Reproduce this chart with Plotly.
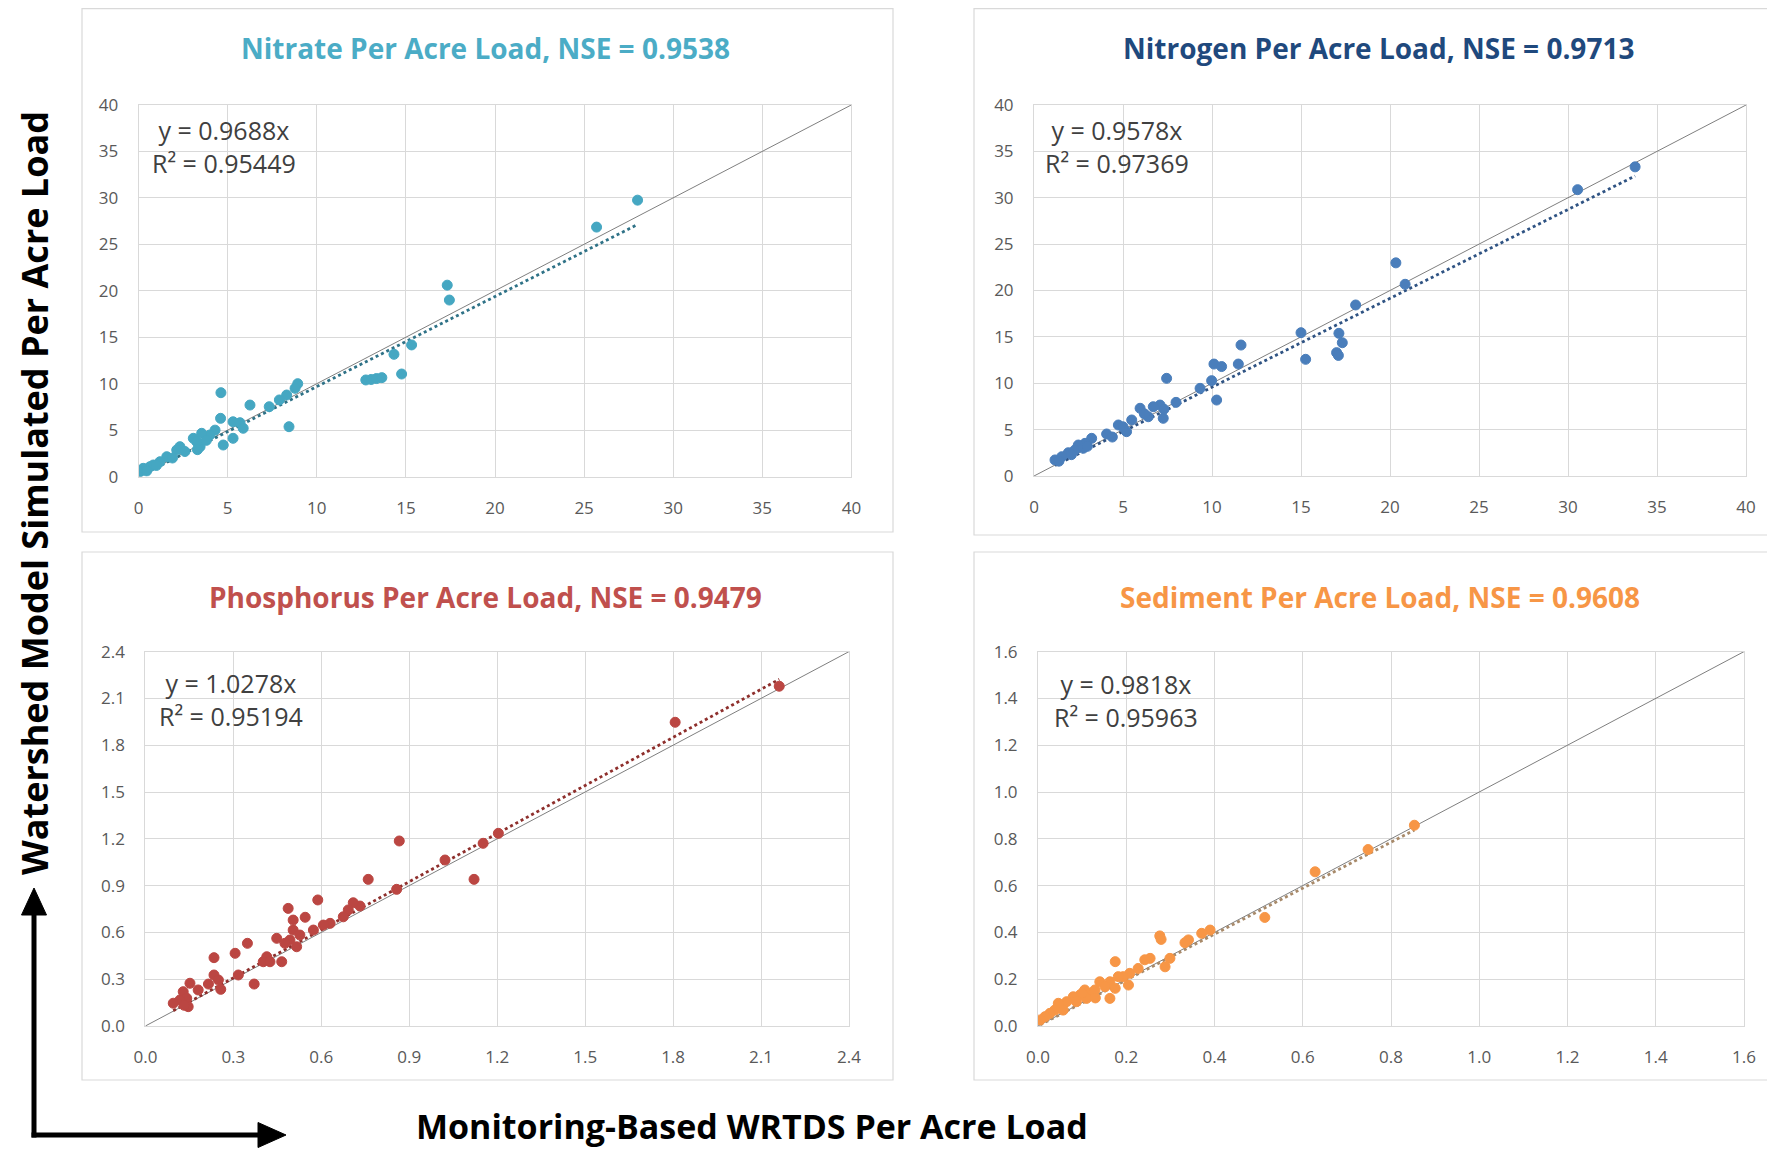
import plotly.graph_objects as go

# page body adds an 8px margin; the figure is sized/offset to compensate
OFF = 8
W, H = 1775 - OFF, 1155 - OFF

# ---------------- data ----------------
nitrate_x = [28.0, 25.7, 17.32, 17.44, 15.32, 14.33, 14.76, 12.75, 13.05, 13.35, 13.65, 8.93, 8.78, 8.31,
             7.9, 7.33, 6.25, 4.62, 8.44, 4.6, 5.3, 5.69, 5.87, 5.3, 4.75, 4.29, 4.0, 3.54, 3.07, 3.45,
             3.26, 2.32, 2.14, 1.58, 1.2, 0.83, 0.26, 0.08, 0.64, 3.8, 3.3, 2.6, 1.9, 1.0, 0.45]
nitrate_y = [29.75, 26.85, 20.6, 19.0, 14.17, 13.16, 11.04, 10.4, 10.45, 10.55, 10.65, 10.0, 9.5, 8.78,
             8.25, 7.52, 7.7, 9.03, 5.37, 6.27, 5.9, 5.8, 5.2, 4.12, 3.4, 5.0, 4.48, 4.66, 4.12, 3.22,
             3.76, 3.22, 2.86, 2.14, 1.6, 1.25, 0.89, 0.53, 1.07, 3.9, 2.9, 2.7, 2.0, 1.2, 0.6]

nitrogen_x = [33.77, 30.54, 20.33, 20.85, 18.07, 15.0, 17.13, 17.32, 17.0, 17.1, 15.26, 11.63, 11.48, 10.11,
              10.54, 9.98, 10.26, 9.33, 7.98, 7.45, 7.08, 7.26, 6.7, 5.96, 6.42, 5.49, 5.2, 4.74, 4.08,
              3.24, 2.87, 2.49, 2.3, 1.93, 1.56, 1.18, 2.77, 3.0, 5.0, 6.2, 7.3, 1.4, 2.1, 4.4]
nitrogen_y = [33.33, 30.87, 22.98, 20.67, 18.44, 15.45, 15.38, 14.37, 13.3, 13.0, 12.58, 14.12, 12.07, 12.07,
              11.8, 10.28, 8.19, 9.45, 7.94, 10.53, 7.65, 6.22, 7.47, 7.3, 6.39, 6.04, 4.78, 5.5, 4.53,
              4.06, 3.52, 3.34, 2.8, 2.51, 2.08, 1.73, 2.99, 3.2, 5.3, 6.7, 7.2, 1.6, 2.3, 4.2]

phosphorus_x = [2.162, 1.807, 1.204, 1.152, 0.866, 1.022, 1.121, 0.76, 0.857, 0.732, 0.709, 0.692, 0.675,
                0.588, 0.63, 0.607, 0.573, 0.545, 0.487, 0.504, 0.504, 0.527, 0.516, 0.493, 0.448, 0.465,
                0.476, 0.414, 0.402, 0.425, 0.348, 0.306, 0.317, 0.371, 0.234, 0.234, 0.249, 0.257, 0.215,
                0.152, 0.18, 0.129, 0.141, 0.118, 0.095, 0.146, 0.132]
phosphorus_y = [2.178, 1.947, 1.235, 1.171, 1.186, 1.064, 0.94, 0.94, 0.876, 0.769, 0.79, 0.744, 0.70,
                0.808, 0.658, 0.647, 0.615, 0.697, 0.754, 0.679, 0.615, 0.583, 0.508, 0.551, 0.562, 0.412,
                0.53, 0.444, 0.412, 0.412, 0.53, 0.466, 0.327, 0.269, 0.438, 0.327, 0.295, 0.235, 0.269,
                0.274, 0.231, 0.22, 0.178, 0.167, 0.146, 0.124, 0.133]

sediment_x = [0.853, 0.748, 0.628, 0.514, 0.39, 0.371, 0.341, 0.333, 0.276, 0.279, 0.299, 0.288, 0.254,
              0.242, 0.227, 0.208, 0.175, 0.193, 0.205, 0.182, 0.163, 0.14, 0.152, 0.175, 0.163, 0.106,
              0.095, 0.08, 0.087, 0.065, 0.046, 0.057, 0.038, 0.027, 0.016, 0.005, 0.121, 0.11, 0.129,
              0.1, 0.13]
sediment_y = [0.858, 0.754, 0.659, 0.464, 0.41, 0.396, 0.368, 0.356, 0.385, 0.37, 0.289, 0.253, 0.289,
              0.283, 0.246, 0.225, 0.275, 0.211, 0.175, 0.211, 0.189, 0.189, 0.168, 0.161, 0.118, 0.154,
              0.132, 0.125, 0.104, 0.104, 0.097, 0.068, 0.068, 0.054, 0.04, 0.026, 0.139, 0.118, 0.154,
              0.14, 0.12]

names = ["Nitrate", "Nitrogen", "Phosphorus", "Sediment"]
nse = [0.9538, 0.9713, 0.9479, 0.9608]
slopes = [0.9688, 0.9578, 1.0278, 0.9818]
r2 = ["0.95449", "0.97369", "0.95194", "0.95963"]
axis_max = [40, 40, 2.4, 1.6]
axis_dtick = [5, 5, 0.3, 0.2]
tick_fmt = ["d", "d", ".1f", ".1f"]
xs = [nitrate_x, nitrogen_x, phosphorus_x, sediment_x]
ys = [nitrate_y, nitrogen_y, phosphorus_y, sediment_y]

y_title = "Watershed Model Simulated Per Acre Load"
x_title = "Monitoring-Based WRTDS Per Acre Load"

# ---------------- style ----------------
marker_colors = ["#45a7c2", "#4a7ebb", "#bb4642", "#f79646"]
title_colors = ["#4bacc6", "#1f497d", "#c0504d", "#f79646"]
trend_colors = ["#2f7287", "#2f5383", "#8e2f2c", "#a88a6a"]
FONT = '"Open Sans", sans-serif'
GRID = "#d9d9d9"

# positions in window pixels (left, right, top, bottom)
areas = [(138.6, 851.4, 104.9, 476.6), (1034, 1746, 105, 476),
         (145.4, 849, 651.6, 1026), (1038, 1744, 651.6, 1026)]
frames = [(82, 893, 8.6, 532), (974, 1768, 8.6, 535), (82, 893, 552, 1080), (974, 1768, 552, 1080)]
title_pos = [(485, 48), (1378, 48), (485, 597), (1380, 597)]
eq_pos = [(150, 147), (1043, 147), (157, 699), (1052, 700)]


def px(x):
    return (x - OFF) / W


def py(y):
    return 1 - (y - OFF) / H


fig = go.Figure()
layout = dict(width=W, height=H, margin=dict(l=0, r=0, t=0, b=0, pad=0, autoexpand=False),
              paper_bgcolor="white", plot_bgcolor="white", showlegend=False, template="none")
annotations = []
shapes = []

for i in range(4):
    n = i + 1
    xa = "x" if n == 1 else f"x{n}"
    ya = "y" if n == 1 else f"y{n}"
    l, r, t, b = areas[i]
    m = axis_max[i]
    ax_common = dict(range=[0, m], dtick=axis_dtick[i], tick0=0, showgrid=True, gridcolor=GRID,
                     gridwidth=1, zeroline=False, showline=True, mirror=True, linecolor=GRID,
                     linewidth=1, ticks="outside", ticklen=16, tickcolor="rgba(0,0,0,0)",
                     tickformat=tick_fmt[i], tickfont=dict(family=FONT, size=17, color="#595959"),
                     fixedrange=True, automargin=False)
    layout["xaxis" if n == 1 else f"xaxis{n}"] = dict(domain=[px(l), px(r)], anchor=ya, **ax_common)
    layout["yaxis" if n == 1 else f"yaxis{n}"] = dict(domain=[py(b), py(t)], anchor=xa, **ax_common)

    # 1:1 line
    fig.add_trace(go.Scatter(x=[0, m], y=[0, m], mode="lines", xaxis=xa, yaxis=ya,
                             line=dict(color="#7f7f7f", width=1), hoverinfo="skip"))
    # trend line over data range
    x0, x1 = min(xs[i]), max(xs[i])
    fig.add_trace(go.Scatter(x=[x0, x1], y=[slopes[i] * x0, slopes[i] * x1], mode="lines",
                             xaxis=xa, yaxis=ya,
                             line=dict(color=trend_colors[i], width=2.8, dash="dot"), hoverinfo="skip"))
    # points
    fig.add_trace(go.Scatter(x=xs[i], y=ys[i], mode="markers", xaxis=xa, yaxis=ya,
                             marker=dict(size=10, color=marker_colors[i],
                                         line=dict(color=marker_colors[i], width=1))))

    # frame
    fl, fr, ft, fb = frames[i]
    shapes.append(dict(type="rect", xref="paper", yref="paper", x0=px(fl), x1=px(fr),
                       y0=py(fb), y1=py(ft), line=dict(color=GRID, width=1.2), layer="below"))
    # title
    tx, ty = title_pos[i]
    annotations.append(dict(xref="paper", yref="paper", x=px(tx), y=py(ty), xanchor="center",
                            yanchor="middle", showarrow=False,
                            text=f"<b>{names[i]} Per Acre Load, NSE = {nse[i]}</b>",
                            font=dict(family=FONT, size=28, color=title_colors[i])))
    # equation
    ex, ey = eq_pos[i]
    annotations.append(dict(xref="paper", yref="paper", x=px(ex), y=py(ey), xanchor="left",
                            yanchor="middle", showarrow=False, align="center",
                            text=f"y = {slopes[i]}x<br>R² = {r2[i]}",
                            font=dict(family=FONT, size=25, color="#404040")))

# axis titles
annotations.append(dict(xref="paper", yref="paper", x=px(34), y=py(493), textangle=-90,
                        xanchor="center", yanchor="middle", showarrow=False,
                        text=f"<b>{y_title}</b>", font=dict(family=FONT, size=36, color="black")))
annotations.append(dict(xref="paper", yref="paper", x=px(752), y=py(1126),
                        xanchor="center", yanchor="middle", showarrow=False,
                        text=f"<b>{x_title}</b>", font=dict(family=FONT, size=34, color="black")))

# L-shaped arrow
cx, cy = 34, 1135
shapes.append(dict(type="line", xref="paper", yref="paper", x0=px(cx), y0=py(cy + 2.5),
                   x1=px(cx), y1=py(910), line=dict(color="black", width=5)))
shapes.append(dict(type="line", xref="paper", yref="paper", x0=px(cx - 2.5), y0=py(cy),
                   x1=px(262), y1=py(cy), line=dict(color="black", width=5)))
shapes.append(dict(type="path", xref="paper", yref="paper", fillcolor="black",
                   line=dict(color="black", width=1),
                   path=f"M {px(cx-12.5)},{py(915)} L {px(cx)},{py(888)} L {px(cx+12.5)},{py(915)} Z"))
shapes.append(dict(type="path", xref="paper", yref="paper", fillcolor="black",
                   line=dict(color="black", width=1),
                   path=f"M {px(258)},{py(cy-12.5)} L {px(286)},{py(cy)} L {px(258)},{py(cy+12.5)} Z"))

layout["annotations"] = annotations
layout["shapes"] = shapes
fig.update_layout(**layout)
fig.write_html("out.html")
